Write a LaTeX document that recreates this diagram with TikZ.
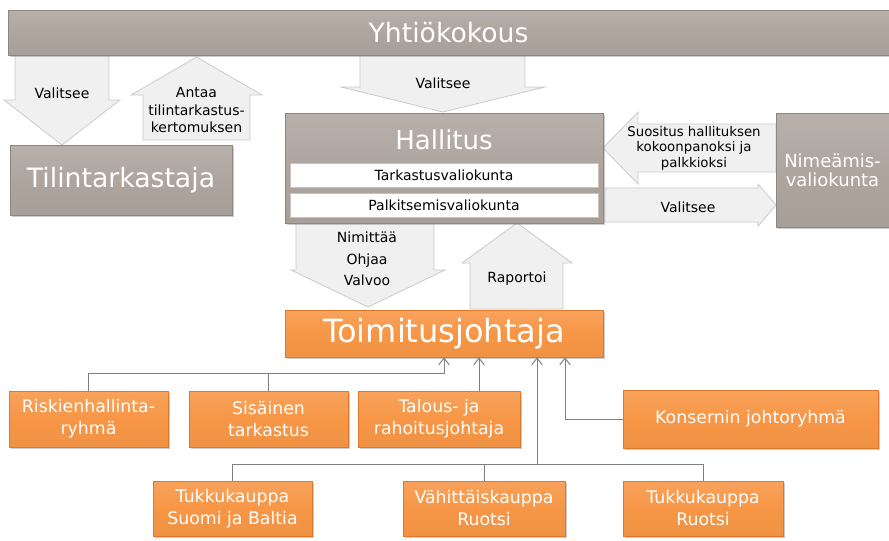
\documentclass[tikz,border=0pt]{standalone}
\usepackage{fontspec}
\setmainfont{DejaVu Sans}
\usetikzlibrary{shadows,arrows.meta}

\definecolor{taupe}{HTML}{AEA59F}
\definecolor{taupeedge}{HTML}{8F8680}
\definecolor{unitorange}{HTML}{F79646}
\definecolor{unitedge}{HTML}{E0782B}
\definecolor{arrowfill}{HTML}{F0F0F0}
\definecolor{arrowedge}{HTML}{CACACA}
\definecolor{linkgray}{HTML}{7F7F7F}

\begin{document}
\begin{tikzpicture}[x=0.75pt,y=-0.75pt,
  greybox/.style={top color=taupe!88!white, bottom color=taupe!96!black,
    middle color=taupe, draw=taupeedge, line width=0.6pt, text=white,
    inner sep=0pt, align=center,
    drop shadow={opacity=0.4, shadow xshift=1.5pt, shadow yshift=-1.5pt}},
  committee/.style={fill=white, draw=taupeedge!50, line width=0.4pt,
    inner sep=0pt, minimum width=231pt, minimum height=18pt,
    font=\fontsize{10.5}{12}\selectfont},
  unitbox/.style={top color=unitorange!88!white, bottom color=unitorange!97!black,
    middle color=unitorange, draw=unitedge, line width=0.6pt, text=white,
    inner sep=0pt, align=center, font=\fontsize{13}{16.5}\selectfont,
    drop shadow={opacity=0.4, shadow xshift=1.5pt, shadow yshift=-1.5pt}},
  blockarrow/.style={fill=arrowfill, draw=arrowedge, line width=0.6pt},
  arrowtext/.style={align=center, inner sep=0pt, font=\fontsize{10.5}{13}\selectfont},
  link/.style={draw=linkgray, line width=0.75pt},
  linkto/.style={link, -{Straight Barb[length=5pt,width=8pt]}},
]
\useasboundingbox (0,0) rectangle (889,540);

% block arrows first, boxes go on top of them
\fill[blockarrow] (15,55) -- (109,55) -- (109,100) -- (120,100) -- (62,145)
  -- (4,100) -- (15,100) -- cycle;
\node[arrowtext] (valitseeaudit) at (62,93) {Valitsee};

\fill[blockarrow] (143,140) -- (143,95) -- (131,95) -- (196.5,57) -- (262,95)
  -- (250,95) -- (250,140) -- cycle;
\node[arrowtext] (antaa) at (196.5,110) {Antaa\\tilintarkastus-\\kertomuksen};

\fill[blockarrow] (360,55) -- (525,55) -- (525,87) -- (545,87) -- (443,112)
  -- (341,87) -- (360,87) -- cycle;
\node[arrowtext] (valitseeboard) at (443,83) {Valitsee};

\fill[blockarrow] (776,124) -- (638,124) -- (638,112) -- (603,148) -- (638,184)
  -- (638,172) -- (776,172) -- cycle;
\node[arrowtext, font=\fontsize{10}{11.5}\selectfont] (suositus) at (694,148)
  {Suositus hallituksen\\kokoonpanoksi ja\\palkkioksi};

\fill[blockarrow] (605,188) -- (758,188) -- (758,184) -- (776,205) -- (758,226)
  -- (758,222) -- (605,222) -- cycle;
\node[arrowtext] (valitseenom) at (688,207) {Valitsee};

\fill[blockarrow] (296,223) -- (434,223) -- (434,270) -- (445,270) -- (368,307)
  -- (291,270) -- (296,270) -- cycle;
\node[arrowtext, font=\fontsize{10.5}{16}\selectfont] (nimittaa) at (367,259)
  {Nimittää\\Ohjaa\\Valvoo};

\fill[blockarrow] (470,309) -- (470,263) -- (462,263) -- (517,223) -- (572,263)
  -- (563,263) -- (563,309) -- cycle;
\node[arrowtext] (raportoi) at (517,279) {Raportoi};

% governing bodies
\node[greybox, minimum width=660.75pt, minimum height=33.75pt,
  font=\fontsize{20}{24}\selectfont] (yhtiokokous) at (448.5,32.5) {Yhtiökokous};
\node[greybox, minimum width=166.5pt, minimum height=52.5pt,
  font=\fontsize{20}{24}\selectfont] (tilintarkastaja) at (121,180) {Tilintarkastaja};
\node[greybox, minimum width=238.5pt, minimum height=82.5pt] (hallitus) at (444,168) {};
\node[text=white, font=\fontsize{19.5}{23}\selectfont] (hallitusname) at (444,140) {Hallitus};
\node[committee] (tarkastus) at (444,175) {Tarkastusvaliokunta};
\node[committee] (palkitsemis) at (444,205) {Palkitsemisvaliokunta};
\node[greybox, minimum width=84.75pt, minimum height=85.5pt,
  font=\fontsize{13.5}{14.5}\selectfont] (nimeamis) at (832.5,170) {Nimeämis-\\valiokunta};

% management
\node[unitbox, minimum width=238.5pt, minimum height=35.25pt,
  font=\fontsize{24}{28}\selectfont] (toimitus) at (444,333.5) {Toimitusjohtaja};

\node[unitbox, minimum width=119.25pt, minimum height=42pt] (riskien) at (88.5,419) {Riskienhallinta-\\ryhmä};
\node[unitbox, minimum width=119.25pt, minimum height=42pt] (sisainen) at (268.5,419) {Sisäinen\\tarkastus};
\node[unitbox, minimum width=121.5pt, minimum height=42pt] (talous) at (439,419) {Talous- ja\\rahoitusjohtaja};
\node[unitbox, minimum width=191.25pt, minimum height=43.5pt] (konserni) at (750.5,419) {Konsernin johtoryhmä};

\node[unitbox, minimum width=119.25pt, minimum height=41.25pt] (tukkusuomi) at (232.5,508.5) {Tukkukauppa\\Suomi ja Baltia};
\node[unitbox, minimum width=121.5pt, minimum height=41.25pt] (vahittais) at (484,508.5) {Vähittäiskauppa\\Ruotsi};
\node[unitbox, minimum width=120pt, minimum height=41.25pt] (tukkuruotsi) at (703,508.5) {Tukkukauppa\\Ruotsi};

% reporting lines
\draw[linkto] (riskien.north) -- ++(0,-17) -| (toimitus.south);
\draw[link] (sisainen.north) -- ++(0,-17);
\draw[linkto] ([xshift=30pt]talous.north) -- ([xshift=30pt]talous.north |- toimitus.south);

\draw[link] (tukkusuomi.north) -- ++(0,-16) -| (tukkuruotsi.north);
\draw[link] (vahittais.north) -- ++(0,-16);
\coordinate (segmenthub) at ([xshift=39.75pt,yshift=12pt]vahittais.north);
\draw[linkto] (segmenthub) -- (segmenthub |- toimitus.south);

\draw[linkto] (konserni.west) -| ([xshift=90.75pt]toimitus.south);
\end{tikzpicture}
\end{document}
